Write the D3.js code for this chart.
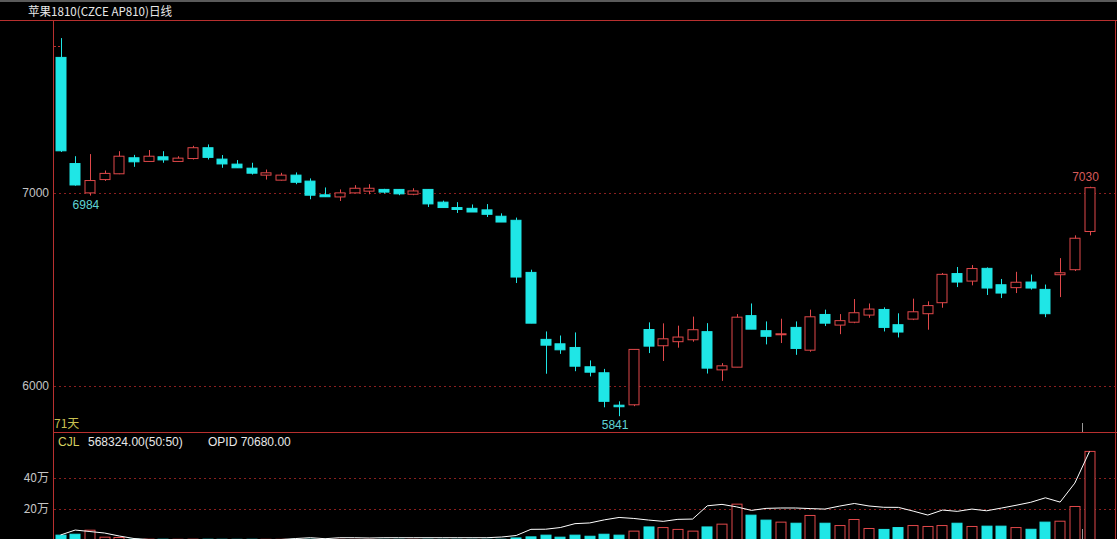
<!DOCTYPE html>
<html>
<head>
<meta charset="utf-8">
<script src="https://cdn.jsdelivr.net/npm/d3@7/dist/d3.min.js"></script>
<style>
html,body{margin:0;padding:0;background:#000;overflow:hidden;}
svg{display:block;}
</style>
</head>
<body>
<svg id="chart" width="1117" height="539"></svg>
<script>
// ---- data ----
const title = "苹果1810(CZCE AP810)日线";
const open  = [7700,7150,6998,7067,7097,7180,7161,7185,7161,7176,7232,7173,7147,7126,7090,7064,7090,7059,6988,6977,6998,7007,7016,7016,6991,7016,6950,6922,6918,6910,6877,6856,6586,6239,6216,6197,6097,6066,5898,5900,6290,6206,6227,6237,6279,6081,6095,6362,6284,6263,6301,6183,6368,6313,6328,6365,6394,6315,6344,6372,6429,6580,6541,6607,6522,6507,6536,6498,6574,6600,6798];
const high  = [7800,7188,7199,7114,7214,7195,7220,7214,7188,7242,7249,7194,7168,7154,7119,7102,7104,7073,7026,7016,7038,7043,7019,7017,7022,7016,6958,6950,6938,6940,6892,6870,6600,6280,6259,6275,6130,6086,5918,6187,6327,6322,6310,6357,6323,6116,6370,6425,6332,6346,6332,6393,6393,6370,6448,6425,6405,6374,6450,6436,6583,6614,6624,6612,6552,6589,6575,6523,6660,6778,7030];
const low   = [7210,7035,6984,7060,7095,7133,7160,7154,7160,7171,7171,7128,7127,7093,7067,7062,7043,6965,6977,6956,6998,6991,6995,6986,6986,6925,6922,6894,6899,6873,6847,6531,6323,6061,6164,6074,6047,5887,5841,5893,6168,6127,6196,6227,6062,6024,6095,6292,6213,6220,6159,6175,6308,6266,6323,6351,6280,6249,6339,6289,6403,6510,6519,6469,6453,6479,6497,6354,6458,6593,6778];
const close = [7216,7039,7062,7099,7188,7159,7188,7169,7178,7232,7182,7148,7128,7100,7102,7090,7053,6986,6978,6998,7022,7022,7002,6993,7008,6941,6922,6912,6899,6887,6847,6562,6323,6209,6185,6100,6069,5918,5890,6187,6204,6242,6251,6289,6090,6102,6354,6292,6255,6268,6192,6356,6323,6336,6377,6396,6301,6277,6382,6414,6576,6536,6606,6505,6479,6535,6505,6372,6584,6763,7025];
const volume = [28000,34000,60000,15000,13000,2000,1800,1500,1200,1800,1500,1200,1000,1200,1000,1000,1200,1500,1200,1000,1000,1000,800,1000,1000,1200,1000,1000,1000,1200,1500,10000,17000,28000,15000,28000,21000,34000,28000,54000,81000,77000,65000,54000,81000,99000,228000,157000,125000,112000,105000,155000,105000,90000,129000,71000,65000,77000,90000,84000,90000,105000,84000,86000,86000,77000,66000,112000,118000,213000,568324];
const opid = [7540,11310,10180,9050,6790,4900,4150,3770,3390,3020,3020,3020,3020,3390,3770,4150,4900,5510,4750,5510,5510,5280,5510,5510,5510,5510,5510,5510,5510,5510,6030,7170,11840,11920,13200,16140,16670,19010,20820,20060,18860,17880,19390,19610,29640,30700,28810,26170,27680,27980,27980,27530,27150,29420,31380,29490,28510,28440,25650,22630,26400,25420,27150,25870,27910,30020,32280,35680,32430,46770,70680];
const priceTicks = [6000, 7000];
const volTicks = [200000, 400000];
const volTickLabels = ["20万", "40万"];
const dayCount = "71天";
const cjlLabel = "CJL";
const cjlValue = "568324.00(50:50)";
const opidLabel = "OPID 70680.00";

// ---- layout ----
const W = 1117, H = 539;
const svg = d3.select("#chart");
const RED = "#b8302f", GRID = "#8a1f1f", CYAN = "#1fe6e6", CRED = "#e0484a";
const n = open.length;
const idx = d3.range(n);

const x = d3.scaleLinear().domain([0, n - 1]).range([60.5, 1089.5]);
const y = d3.scaleLinear().domain([6000, 7000]).range([385.5, 192.5]);
const yv = d3.scaleLinear().domain([0, 400000]).range([539.5, 477.5]);
const yo = d3.scaleLinear().domain([0, 70680]).range([545, 451.5]);
const bw = 11;

svg.append("rect").attr("width", W).attr("height", H).attr("fill", "#000");
svg.append("rect").attr("x", 0).attr("y", 0).attr("width", W).attr("height", 2).attr("fill", "#5a5a5a");

// title
svg.append("text").attr("x", 28).attr("y", 16).attr("fill", "#e8e8e8")
  .attr("font-family", "'Noto Sans CJK SC', sans-serif").attr("font-size", 12)
  .attr("textLength", 144).attr("lengthAdjust", "spacingAndGlyphs").text(title);

// frame lines
svg.append("line").attr("x1", 0).attr("x2", W).attr("y1", 20.5).attr("y2", 20.5).attr("stroke", RED);
svg.append("line").attr("x1", 53.5).attr("x2", 53.5).attr("y1", 20.5).attr("y2", H).attr("stroke", RED);
svg.append("line").attr("x1", 1115.5).attr("x2", 1115.5).attr("y1", 20.5).attr("y2", H).attr("stroke", RED);
svg.append("line").attr("x1", 53.5).attr("x2", W).attr("y1", 432.5).attr("y2", 432.5).attr("stroke", RED);

// price grid + labels
const numFont = "'Liberation Sans', Arial, sans-serif";
priceTicks.forEach(t => {
  svg.append("line").attr("x1", 54).attr("x2", 1115).attr("y1", Math.round(y(t)) + 0.5).attr("y2", Math.round(y(t)) + 0.5)
    .attr("stroke", GRID).attr("stroke-dasharray", "2,3");
  svg.append("text").attr("x", 49).attr("y", y(t) + 4.5).attr("text-anchor", "end")
    .attr("fill", "#c4c4c4").attr("font-family", numFont).attr("font-size", 12).text(t);
});
// small marker on axis
svg.append("line").attr("x1", 54).attr("x2", 60).attr("y1", 46.5).attr("y2", 46.5)
  .attr("stroke", RED).attr("stroke-dasharray", "2,2");

// volume grid + labels
volTicks.forEach((t, k) => {
  svg.append("line").attr("x1", 54).attr("x2", 1115).attr("y1", Math.round(yv(t)) + 0.5).attr("y2", Math.round(yv(t)) + 0.5)
    .attr("stroke", GRID).attr("stroke-dasharray", "2,3");
  svg.append("text").attr("x", 49).attr("y", yv(t) + 4.5).attr("text-anchor", "end")
    .attr("fill", "#c4c4c4").attr("font-family", "'Noto Sans CJK SC', sans-serif").attr("font-size", 12).text(volTickLabels[k]);
});

// candles
const up = i => close[i] >= open[i];
const g = svg.append("g");
g.selectAll("line.wick").data(idx).join("line").attr("class", "wick")
  .attr("x1", i => Math.round(x(i)) + 0.5).attr("x2", i => Math.round(x(i)) + 0.5)
  .attr("y1", i => y(high[i])).attr("y2", i => y(low[i]))
  .attr("stroke", i => up(i) ? CRED : CYAN);
g.selectAll("rect.body").data(idx).join("rect").attr("class", "body")
  .attr("x", i => Math.round(x(i)) - bw / 2 + 0.5)
  .attr("y", i => y(Math.max(open[i], close[i])))
  .attr("width", bw - 1)
  .attr("height", i => Math.max(1, Math.abs(y(open[i]) - y(close[i]))))
  .attr("fill", i => up(i) ? "#000" : CYAN)
  .attr("stroke", i => up(i) ? CRED : CYAN);

// extreme labels
const iMin = d3.minIndex(low), iMax = d3.maxIndex(high.slice(1)) + 1;
const iLocal = 2; // local low after opening day
[[iLocal, low[iLocal], 1, "#5fd4d4"], [iMin, low[iMin], 1, "#5fd4d4"], [n - 1, high[n - 1], -1, "#d85a5a"]].forEach(([i, v, dir, c]) => {
  svg.append("text").attr("x", x(i) - 4).attr("y", dir > 0 ? y(v) + 13 : y(v) - 6)
    .attr("text-anchor", "middle").attr("fill", c).attr("font-family", numFont).attr("font-size", 12).text(v);
});

// day count label
svg.append("text").attr("x", 54).attr("y", 428).attr("fill", "#c8c050")
  .attr("font-family", "'Noto Sans CJK SC', sans-serif").attr("font-size", 12).text(dayCount);

// volume panel header
svg.append("text").attr("x", 58).attr("y", 446).attr("fill", "#d4d060").attr("font-family", numFont).attr("font-size", 12).text(cjlLabel);
svg.append("text").attr("x", 88).attr("y", 446).attr("fill", "#e8e8e8").attr("font-family", numFont).attr("font-size", 12).text(cjlValue);
svg.append("text").attr("x", 208).attr("y", 446).attr("fill", "#e8e8e8").attr("font-family", numFont).attr("font-size", 12).text(opidLabel);

// volume bars
const vg = svg.append("g");
vg.selectAll("rect").data(idx).join("rect")
  .attr("x", i => Math.round(x(i)) - bw / 2 + 0.5)
  .attr("y", i => yv(volume[i]))
  .attr("width", bw - 1)
  .attr("height", i => Math.max(0, yv(0) - yv(volume[i]) + 5))
  .attr("fill", i => up(i) ? "#000" : CYAN)
  .attr("stroke", i => up(i) ? CRED : CYAN);

// open interest line
svg.append("path").datum(idx)
  .attr("d", d3.line().x(i => x(i)).y(i => yo(opid[i])))
  .attr("fill", "none").attr("stroke", "#ffffff").attr("stroke-width", 1);

// cursor marker
svg.append("line").attr("x1", 1082.5).attr("x2", 1082.5).attr("y1", 423).attr("y2", 432).attr("stroke", "#9a9a9a");
svg.append("line").attr("x1", 1082.5).attr("x2", 1082.5).attr("y1", 529).attr("y2", 539).attr("stroke", "#9a9a9a");
</script>
</body>
</html>
